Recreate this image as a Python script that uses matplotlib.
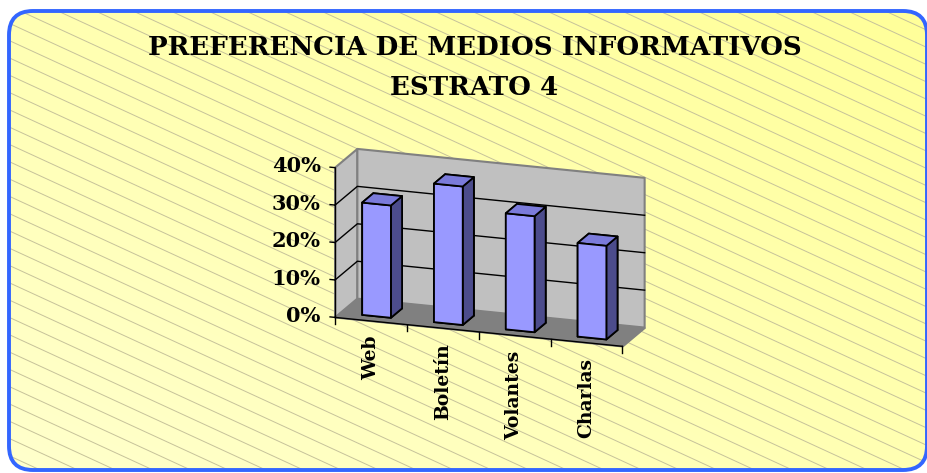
import numpy as np
import matplotlib
matplotlib.use("Agg")
import matplotlib.pyplot as plt
from matplotlib.patches import FancyBboxPatch
from mpl_toolkits.mplot3d.art3d import Poly3DCollection

# data
categories = ["Web", "Boletín", "Volantes", "Charlas"]
values = [0.30, 0.37, 0.31, 0.25]
yticks = [0.0, 0.1, 0.2, 0.3, 0.4]
ytick_labels = ["0%", "10%", "20%", "30%", "40%"]
title = "PREFERENCIA DE MEDIOS INFORMATIVOS\nESTRATO 4"

W, H = 927, 473
fig = plt.figure(figsize=(W / 100, H / 100), dpi=100)
fig.patch.set_facecolor("white")

# background panel (rounded, gradient + diagonal lines)
bg = fig.add_axes([0, 0, 1, 1])
bg.set_xlim(0, W)
bg.set_ylim(H, 0)
bg.axis("off")
px, py, pw, ph = 9, 11, 918, 459
panel = FancyBboxPatch((px, py), pw, ph, boxstyle="round,pad=0,rounding_size=24",
                       facecolor="#FFFFC0", edgecolor="none", zorder=1)
bg.add_patch(panel)
gx, gy = np.meshgrid(np.linspace(0, 1, 64), np.linspace(0, 1, 64))
t = np.clip(0.5 * gx + 0.5 * (1 - gy), 0, 1)  # 1 at top-right
c0 = np.array([1.0, 1.0, 0.80])
c1 = np.array([1.0, 1.0, 0.60])
grad = c0 + (c1 - c0) * t[..., None]
im = bg.imshow(grad, extent=(px, px + pw, py + ph, py), origin="upper",
               interpolation="bilinear", zorder=1.5, aspect="auto")
im.set_clip_path(panel)
slope = 0.46
for c in np.arange(-500, 480, 17.3):
    xs = np.array([0, W])
    ln, = bg.plot(xs, c + slope * xs, color="#C6C29A", lw=0.7, zorder=2)
    ln.set_clip_path(panel)
bg.add_patch(FancyBboxPatch((px, py), pw, ph, boxstyle="round,pad=0,rounding_size=24",
                            facecolor="none", edgecolor="#3366FF", linewidth=2.8, zorder=3))

fig.text(0.512, 0.858, title, ha="center", va="center", fontsize=18.8, fontweight="bold",
         family="DejaVu Serif", linespacing=1.75)

# 3d chart
ax = fig.add_axes([0.3279, 0.0835, 0.3905, 0.7653], projection="3d", computed_zorder=False)
ax.set_proj_type("ortho")
ax.set_facecolor("none")
ax.patch.set_visible(False)
ax.set_axis_off()
nx = len(categories)
ax.set_xlim(0, nx)
ax.set_ylim(0, 1)
ax.set_zlim(0, yticks[-1])
ax.set_box_aspect((300.5, 67.4, 154.7), zoom=0.935)
ax.view_init(elev=16.9, azim=-70.9)

top = yticks[-1]
walls = [
    [(0, 1, 0), (nx, 1, 0), (nx, 1, top), (0, 1, top)],
    [(0, 0, 0), (0, 1, 0), (0, 1, top), (0, 0, top)],
]
ax.add_collection3d(Poly3DCollection(walls, facecolors="#C0C0C0", edgecolors="#808080",
                                     linewidths=1.5, zorder=1))
floor = [[(0, 0, 0), (nx, 0, 0), (nx, 1, 0), (0, 1, 0)]]
ax.add_collection3d(Poly3DCollection(floor, facecolors="#808080", edgecolors="#808080",
                                     linewidths=1, zorder=1))
for v in yticks[1:-1]:
    ax.plot([0, 0, nx], [0, 1, 1], [v, v, v], color="black", lw=1, zorder=2)

# axis lines and ticks
ax.plot([0, 0], [0, 0], [0, top], color="black", lw=1, zorder=2)
ax.plot([0, nx], [0, 0], [0, 0], color="black", lw=1, zorder=2)
for v, lab in zip(yticks, ytick_labels):
    ax.plot([-0.07, 0], [0, 0], [v, v], color="black", lw=1, zorder=2)
    ax.text(-0.2, 0, v, lab, ha="right", va="center", fontsize=15, fontweight="bold",
            family="DejaVu Serif", zorder=4)
for i in range(nx + 1):
    ax.plot([i, i], [0, 0], [0, -0.018], color="black", lw=1, zorder=2)

# bars
bw, bd = 0.4, 0.5
xpos = np.arange(nx) + 0.5 - bw / 2
face_cols = []
for _ in range(nx):
    # -z, +z, -y, +y, -x, +x
    face_cols += ["#9999FF", "#7B7BDB", "#9999FF", "#9999FF", "#9999FF", "#4C4C8C"]
ax.bar3d(xpos, np.full(nx, 0.5 - bd / 2), np.zeros(nx), bw, bd, values,
         color=face_cols, edgecolor="black", linewidth=1.3, shade=False, zorder=3)

for i, lab in enumerate(categories):
    ax.text(i + 0.5, 0, -0.04, lab, zdir="z", ha="center", va="top", fontsize=13.5,
            fontweight="bold", family="DejaVu Serif", zorder=4)

fig.savefig("out.png", dpi=100, facecolor=fig.get_facecolor())
